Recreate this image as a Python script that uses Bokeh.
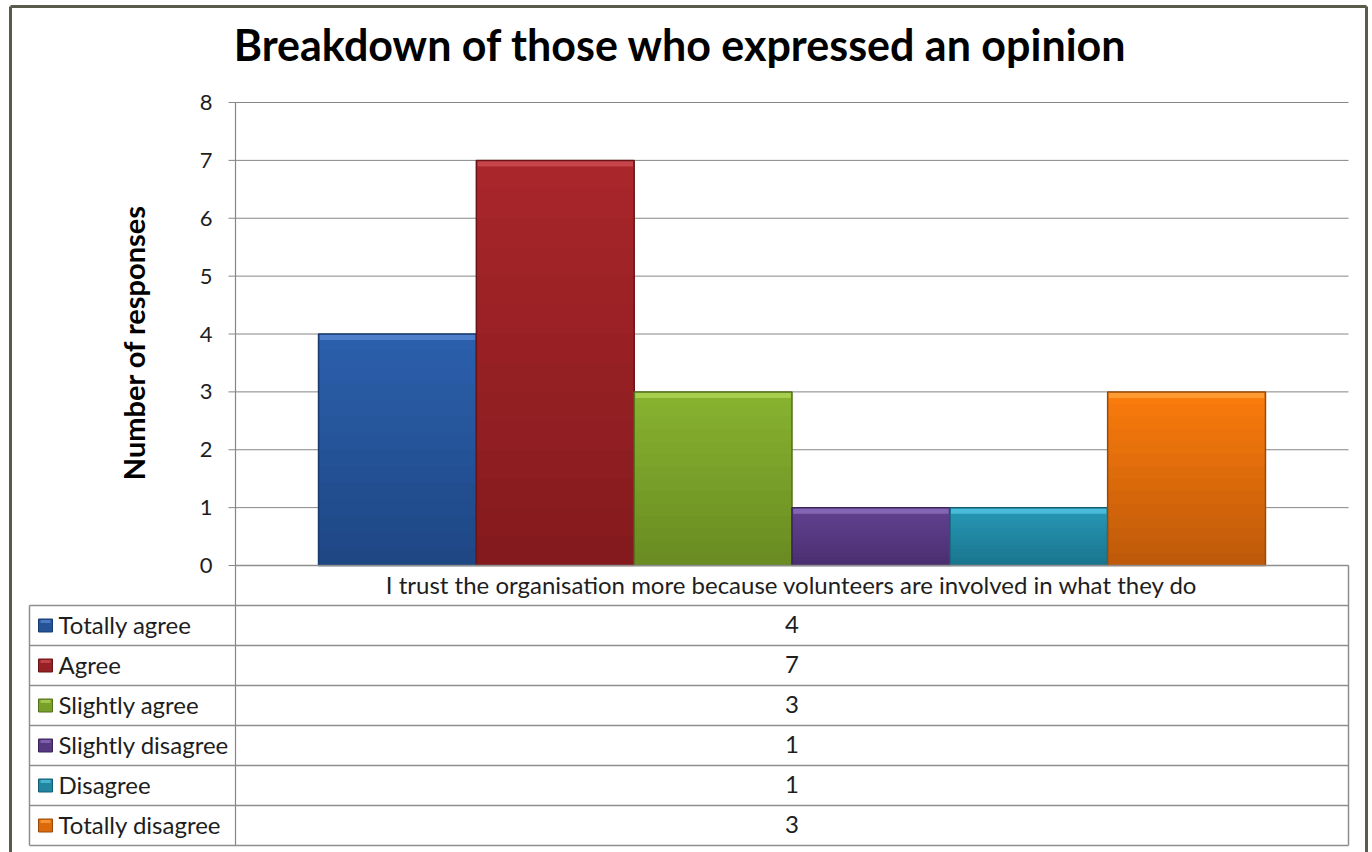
import math
from bokeh.plotting import figure
from bokeh.models import Range1d, ColumnDataSource
from bokeh.core.properties import value
from bokeh.embed import file_html
from bokeh.resources import INLINE

# ---------------- data ----------------
chart_title = "Breakdown of those who expressed an opinion"
category = "I trust the organisation more because volunteers are involved in what they do"
series = ["Totally agree", "Agree", "Slightly agree", "Slightly disagree", "Disagree", "Totally disagree"]
counts = [4, 7, 3, 1, 1, 3]
y_ticks = [0, 1, 2, 3, 4, 5, 6, 7, 8]
y_title = "Number of responses"

# ---------------- style ----------------
top_colors = ["#2c60ad", "#aa262b", "#88b32f", "#624291", "#2799b7", "#fb7c0b"]
bottom_colors = ["#1d4683", "#831a1d", "#698b22", "#4a2e70", "#1a748e", "#bd590a"]
edge_colors = ["#173a6e", "#6a1417", "#546f1b", "#3a2459", "#135d72", "#9a4a08"]
bevel_colors = ["#5a8ad6", "#d05056", "#b0d85a", "#9070c0", "#55c8e6", "#ffa640"]

W, H = 1372, 852
PL, PR, PT, PB = 235, 1348, 102, 565      # plot area in page pixels
Y_MAX = 8
ROW_H = 40
TAB_L = 29
FONT = "Lato"
TXT = "#1e1e1e"
GRID = "#868686"
TABLE = "#8e8e8e"
BORDER = "#5b5b4b"
BAR_W = 0.1418          # fraction of the category width
N_SLICES = 14
CAT_X = 0.5


def mix(c1, c2, t):
    a = [int(c1[i:i + 2], 16) for i in (1, 3, 5)]
    b = [int(c2[i:i + 2], 16) for i in (1, 3, 5)]
    return "#%02x%02x%02x" % tuple(round(a[k] + (b[k] - a[k]) * t) for k in range(3))


# page-pixel frame covering the whole canvas
p = figure(width=W, height=H, x_range=Range1d(0, W), y_range=Range1d(H, 0),
           x_axis_type=None, y_axis_type=None, min_border=0,
           output_backend="svg", toolbar_location=None, title=None)
p.outline_line_color = None
p.background_fill_color = "white"
p.border_fill_color = "white"
p.xgrid.visible = False
p.ygrid.visible = False

# data scales for the chart area: category fraction (x) and responses (y)
px_per_val = (PB - PT) / Y_MAX
p.extra_x_ranges = {"cat": Range1d((0 - PL) / (PR - PL), (W - PL) / (PR - PL))}
p.extra_y_ranges = {"val": Range1d((PB - H) / px_per_val, PB / px_per_val)}

# gridlines and y ticks (value scale)
gsrc = ColumnDataSource(dict(y=y_ticks, lab=[str(t) for t in y_ticks]))
p.segment(x0=0, x1=1, y0="y", y1="y", source=gsrc, line_color=GRID, line_width=1,
          x_range_name="cat", y_range_name="val")
p.segment(x0=PL - 7, x1=PL, y0="y", y1="y", source=ColumnDataSource(dict(y=y_ticks)),
          line_color=GRID, line_width=1, y_range_name="val")
p.text(x=PL - 23, y="y", text="lab", source=gsrc, text_font=value(FONT), text_font_size="22px",
       text_color=TXT, text_align="right", text_baseline="middle", y_range_name="val")

# y axis line, continuing down as the table divider
p.segment(x0=[PL], x1=[PL], y0=[PT], y1=[H - 7], line_color=GRID, line_width=1.2)

# axis title
p.text(x=[133], y=[342], text=[y_title], angle=math.pi / 2,
       text_font=value(FONT), text_font_style="bold", text_font_size="29px",
       text_color="black", text_align="center", text_baseline="middle")

# bars: vertical gradient, top bevel, outline
n = len(series)
for i, c in enumerate(counts):
    xc = CAT_X + (i - (n - 1) / 2) * BAR_W
    tops = [c * (N_SLICES - j) / N_SLICES for j in range(N_SLICES)]
    cols = [mix(bottom_colors[i], top_colors[i], (N_SLICES - j - 0.5) / N_SLICES) for j in range(N_SLICES)]
    s = ColumnDataSource(dict(x=[xc] * N_SLICES, top=tops, color=cols))
    p.vbar(x="x", bottom=0, top="top", width=BAR_W, source=s, fill_color="color",
           line_color=None, x_range_name="cat", y_range_name="val")
    sb = ColumnDataSource(dict(x=[xc], top=[c], bottom=[c - 6 / px_per_val]))
    p.vbar(x="x", bottom="bottom", top="top", width=BAR_W * 0.985, source=sb,
           fill_color=bevel_colors[i], fill_alpha=0.75, line_color=None,
           x_range_name="cat", y_range_name="val")
    so = ColumnDataSource(dict(x=[xc], top=[c]))
    p.vbar(x="x", bottom=0, top="top", width=BAR_W, source=so, fill_color=None,
           line_color=edge_colors[i], line_width=1.5, x_range_name="cat", y_range_name="val")

# data table
hy = [PB + ROW_H * r for r in range(len(series) + 2)]
hx0 = [PL] + [TAB_L] * (len(series) + 1)
p.segment(x0=hx0, x1=[PR] * len(hy), y0=hy, y1=hy, line_color=TABLE, line_width=1.5)
p.segment(x0=[TAB_L, PR], x1=[TAB_L, PR], y0=[PB + ROW_H, PB], y1=[hy[-1], hy[-1]],
          line_color=TABLE, line_width=1.5)

p.text(x=[(PL + PR) / 2], y=[PB + ROW_H / 2 - 1], text=[category], text_font=value(FONT),
       text_font_size="24px", text_color=TXT, text_align="center", text_baseline="middle")

row_y = [PB + ROW_H * (r + 1) + ROW_H / 2 - 1 for r in range(len(series))]
key_cols = [mix(bottom_colors[i], top_colors[i], 0.5) for i in range(n)]
tab = ColumnDataSource(dict(name=series, val=[str(v) for v in counts], y=row_y,
                            ky=[y + 1 for y in row_y], kb=[y - 3 for y in row_y],
                            color=key_cols, edge=edge_colors, bev=bevel_colors))
p.rect(x=45, y="ky", width=14, height=13, source=tab, fill_color="color", line_color="edge",
       line_width=1)
p.rect(x=45, y="kb", width=10, height=3, source=tab, fill_color="bev", line_color=None,
       fill_alpha=0.7)
p.text(x=58, y="y", text="name", source=tab, text_font=value(FONT), text_font_size="24px",
       text_color=TXT, text_align="left", text_baseline="middle")
p.text(x=(PL + PR) / 2, y="y", text="val", source=tab, text_font=value(FONT),
       text_font_size="24px", text_color=TXT, text_align="center", text_baseline="middle")

# title
p.text(x=[680], y=[44], text=[chart_title], text_font=value(FONT), text_font_style="bold",
       text_font_size="43px", text_color="black", text_align="center", text_baseline="middle")

# outer frame of the chart
p.segment(x0=[10, 10, 1366], x1=[1366, 10, 1366], y0=[6, 6, 6], y1=[6, H, H],
          line_color=BORDER, line_width=3)

open("out.html", "w").write(file_html(p, INLINE))
